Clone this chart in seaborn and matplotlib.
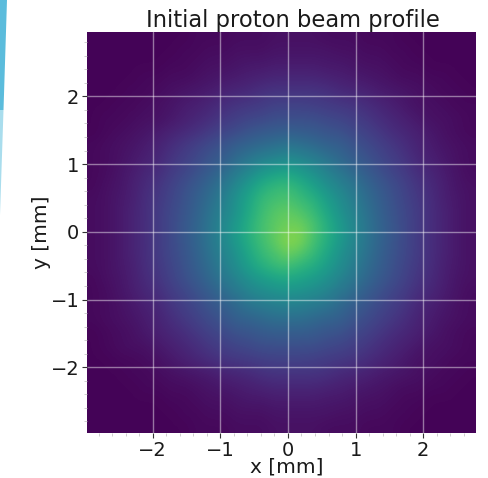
# -*- coding: utf-8 -*-
import numpy as np
import pandas as pd
import matplotlib
matplotlib.use("Agg")
import matplotlib.pyplot as plt
from matplotlib.patches import Polygon
import seaborn as sns

# -------------------- data (% of peak counts) --------------------
x_range = [-2.97, 2.78]
y_range = [-2.97, 2.95]
tick_values = [-2, -1, 0, 1, 2]

counts = [
    [1, 1, 1, 1, 1, 1, 1, 1, 2, 2, 2, 3, 3, 3, 4, 4, 4, 4, 3, 3, 3, 2, 2, 2, 1, 1, 1, 1, 1, 1],
    [1, 1, 1, 1, 1, 1, 1, 2, 2, 3, 3, 4, 4, 4, 5, 5, 5, 5, 5, 4, 4, 3, 3, 2, 2, 1, 1, 1, 1, 1],
    [1, 1, 1, 1, 1, 1, 2, 2, 3, 4, 4, 5, 6, 6, 7, 7, 7, 7, 6, 6, 5, 4, 4, 3, 2, 2, 1, 1, 1, 1],
    [1, 1, 1, 1, 2, 2, 3, 3, 4, 5, 6, 7, 8, 9, 10, 10, 10, 10, 9, 8, 7, 6, 5, 4, 3, 3, 2, 2, 1, 1],
    [1, 1, 1, 2, 2, 3, 4, 5, 6, 7, 9, 10, 11, 13, 14, 14, 14, 14, 13, 11, 10, 9, 7, 6, 5, 4, 3, 2, 2, 1],
    [1, 1, 2, 2, 3, 4, 5, 7, 8, 10, 12, 14, 15, 16, 18, 18, 18, 17, 16, 15, 14, 12, 10, 8, 6, 4, 4, 3, 2, 2],
    [1, 2, 2, 3, 4, 4, 6, 8, 10, 12, 15, 17, 19, 20, 22, 22, 22, 22, 20, 19, 17, 15, 12, 10, 8, 6, 4, 4, 3, 2],
    [1, 2, 3, 4, 5, 7, 9, 11, 13, 16, 19, 21, 24, 26, 27, 28, 27, 26, 24, 23, 20, 18, 15, 12, 10, 8, 6, 4, 3, 2],
    [2, 3, 4, 5, 7, 9, 12, 15, 18, 21, 24, 28, 30, 32, 34, 36, 34, 32, 29, 28, 24, 21, 18, 15, 12, 9, 7, 5, 4, 3],
    [2, 3, 4, 6, 8, 10, 14, 17, 20, 24, 27, 32, 36, 40, 42, 44, 42, 39, 35, 31, 27, 24, 20, 17, 14, 10, 8, 6, 4, 3],
    [2, 3, 5, 7, 10, 12, 16, 19, 23, 27, 32, 38, 43, 49, 52, 54, 50, 46, 41, 36, 32, 27, 23, 19, 16, 12, 10, 7, 5, 3],
    [2, 4, 5, 8, 11, 14, 18, 22, 26, 31, 36, 43, 50, 57, 61, 62, 58, 52, 46, 41, 36, 31, 26, 22, 18, 14, 11, 8, 5, 4],
    [3, 4, 6, 8, 12, 15, 19, 23, 28, 33, 39, 47, 54, 62, 64, 66, 62, 59, 51, 45, 39, 33, 28, 23, 19, 15, 12, 8, 6, 4],
    [3, 4, 6, 9, 12, 16, 20, 24, 29, 35, 41, 47, 56, 63, 68, 70, 67, 62, 55, 47, 41, 35, 29, 24, 20, 16, 12, 9, 6, 4],
    [3, 4, 6, 9, 12, 16, 20, 25, 30, 36, 43, 50, 58, 65, 69, 72, 72, 66, 58, 50, 43, 36, 30, 25, 20, 16, 12, 9, 6, 4],
    [3, 4, 6, 9, 12, 16, 20, 25, 30, 36, 43, 50, 58, 64, 70, 76, 74, 65, 58, 50, 43, 36, 30, 25, 20, 16, 12, 9, 6, 4],
    [3, 4, 6, 9, 12, 16, 20, 24, 29, 35, 41, 47, 55, 62, 66, 72, 68, 62, 55, 47, 41, 35, 29, 24, 20, 16, 12, 9, 6, 4],
    [3, 4, 6, 8, 12, 15, 19, 23, 28, 33, 39, 45, 52, 58, 62, 64, 60, 57, 51, 45, 39, 33, 28, 23, 19, 15, 12, 8, 6, 4],
    [2, 4, 5, 8, 11, 14, 18, 22, 26, 31, 36, 41, 46, 50, 53, 55, 53, 50, 46, 41, 36, 31, 26, 22, 18, 14, 11, 8, 5, 4],
    [2, 3, 5, 7, 10, 12, 16, 19, 23, 27, 32, 36, 41, 44, 46, 47, 46, 44, 41, 36, 32, 27, 23, 19, 16, 12, 10, 7, 5, 3],
    [2, 3, 4, 6, 8, 10, 14, 17, 20, 24, 27, 31, 35, 37, 39, 40, 39, 37, 35, 31, 27, 24, 20, 17, 14, 10, 8, 6, 4, 3],
    [2, 3, 4, 5, 7, 9, 12, 15, 18, 21, 24, 28, 29, 31, 33, 33, 33, 31, 29, 28, 24, 21, 18, 15, 12, 9, 7, 5, 4, 3],
    [1, 2, 3, 4, 6, 8, 10, 12, 15, 18, 20, 23, 24, 26, 27, 27, 27, 26, 24, 23, 20, 18, 15, 12, 10, 8, 6, 4, 3, 2],
    [1, 2, 3, 4, 4, 6, 8, 10, 12, 15, 17, 19, 20, 22, 22, 22, 22, 22, 20, 19, 17, 15, 12, 10, 8, 6, 4, 4, 3, 2],
    [1, 1, 2, 2, 3, 4, 6, 8, 10, 12, 14, 15, 16, 17, 18, 18, 18, 17, 16, 15, 14, 12, 10, 8, 6, 4, 4, 3, 2, 2],
    [1, 1, 1, 2, 2, 3, 4, 5, 6, 7, 9, 10, 11, 13, 14, 14, 14, 14, 13, 11, 10, 9, 7, 6, 5, 4, 3, 2, 2, 1],
    [1, 1, 1, 1, 2, 2, 3, 3, 4, 5, 6, 7, 8, 9, 10, 10, 10, 10, 9, 8, 7, 6, 5, 4, 3, 3, 2, 2, 1, 1],
    [1, 1, 1, 1, 1, 1, 2, 2, 3, 4, 4, 5, 6, 6, 7, 7, 7, 7, 6, 6, 5, 4, 4, 3, 2, 2, 1, 1, 1, 1],
    [1, 1, 1, 1, 1, 1, 1, 2, 2, 3, 3, 4, 4, 4, 5, 5, 5, 5, 5, 4, 4, 3, 3, 2, 2, 1, 1, 1, 1, 1],
    [1, 1, 1, 1, 1, 1, 1, 1, 2, 2, 2, 3, 3, 3, 4, 4, 4, 4, 3, 3, 3, 2, 2, 2, 1, 1, 1, 1, 1, 1],
]

W, H = 489, 478

# -------------------- figure --------------------
sns.set_theme(style="white")
plt.rcParams['font.family'] = ['DejaVu Sans']

fig = plt.figure(figsize=(W / 100, H / 100), dpi=100)
ax = fig.add_axes([87 / W, 1 - 433 / H, (476 - 87) / W, (433 - 32) / H])

df = pd.DataFrame(counts)
sns.heatmap(df, cmap='viridis', vmin=0, vmax=92, cbar=False, square=False,
            xticklabels=False, yticklabels=False, ax=ax)
n_rows, n_cols = df.shape

# the picture is a blurred screenshot, so soften the cell edges when drawing
ax.imshow(df.values, cmap='viridis', vmin=0, vmax=92, aspect='auto', interpolation='bicubic',
          extent=(0, n_cols, n_rows, 0), zorder=2)

# heatmap works in cell numbers, so convert mm to cells
to_col = lambda v: (np.asarray(v, dtype=float) - x_range[0]) / (x_range[1] - x_range[0]) * n_cols
to_row = lambda v: (y_range[1] - np.asarray(v, dtype=float)) / (y_range[1] - y_range[0]) * n_rows

labels = [str(t).replace('-', '\u2212') for t in tick_values]
ax.set_xticks(to_col(tick_values))
ax.set_xticklabels(labels, rotation=0, fontsize=14, color='#1a1a1a')
ax.set_yticks(to_row(tick_values))
ax.set_yticklabels(labels, rotation=0, fontsize=14, color='#1a1a1a')
minor = np.arange(-2.8, 2.81, 0.2)
ax.set_xticks(to_col(minor[minor < x_range[1]]), minor=True)
ax.set_yticks(to_row(minor), minor=True)
ax.tick_params(which='major', length=3.5, width=0.8, color='#333333', bottom=True, left=True, pad=2)
ax.tick_params(which='minor', length=2, width=0.5, color='#bbbbbb', bottom=True, left=True)
ax.grid(True, which='major', color='white', alpha=0.45, lw=1, zorder=3)
ax.set_axisbelow(False)

ax.set_title('Initial proton beam profile', fontsize=16.3, pad=1, color='#1a1a1a', x=0.53)
ax.set_xlabel('x [mm]', fontsize=14.5, color='#1a1a1a')
ax.xaxis.set_label_coords(0.514, -0.062)
ax.set_ylabel('y [mm]', fontsize=14.5, labelpad=0, color='#1a1a1a')

# slide decoration on the left edge
fig.add_artist(Polygon([(0, 1), (7 / W, 1), (3.5 / W, 1 - 110 / H), (0, 1 - 110 / H)],
                       transform=fig.transFigure, color='#5bbcdc', lw=0))
fig.add_artist(Polygon([(0, 1 - 110 / H), (3.5 / W, 1 - 110 / H), (0, 1 - 215 / H)],
                       transform=fig.transFigure, color='#a9dded', lw=0))

fig.savefig('out.png', dpi=100)
